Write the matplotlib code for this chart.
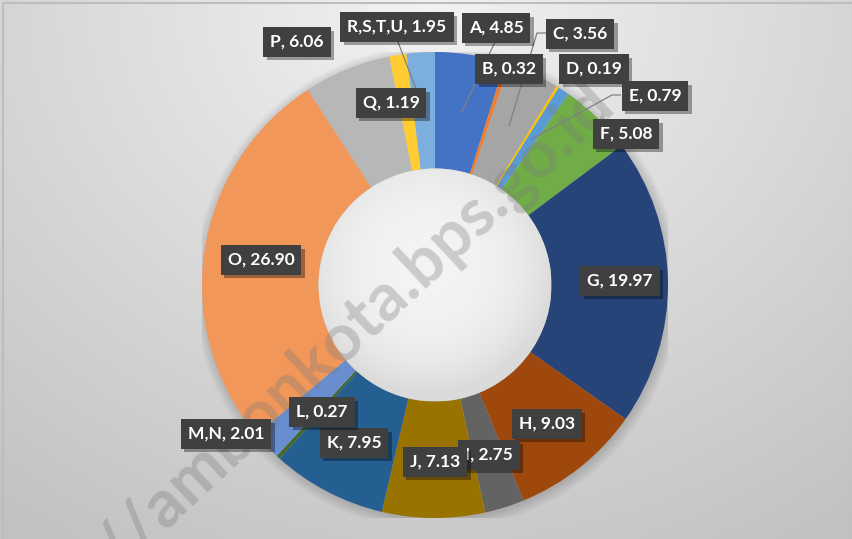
import matplotlib
matplotlib.use("Agg")
import matplotlib.pyplot as plt
import matplotlib.patheffects as pe
import numpy as np

# Data
categories = ["A", "B", "C", "D", "E", "F", "G", "H", "I", "J", "K", "L",
              "M,N", "O", "P", "Q", "R,S,T,U"]
values = [4.85, 0.32, 3.56, 0.19, 0.79, 5.08, 19.97, 9.03, 2.75, 7.13, 7.95,
          0.27, 2.01, 26.90, 6.06, 1.19, 1.95]
colors = ["#4472C4", "#ED7D31", "#A5A5A5", "#FFC000", "#5B9BD5", "#70AD47",
          "#264478", "#9E480E", "#636363", "#997300", "#255E91", "#43682B",
          "#698ED0", "#F1975A", "#B7B7B7", "#FFCD33", "#7CAFDD"]

# Label box centres (pixels, origin top-left), placed by hand like in Excel
label_pos = {
    "A": (496, 28), "B": (509, 69), "C": (580, 34), "D": (594, 69),
    "E": (655, 96), "F": (626, 134), "G": (620, 281), "H": (547, 424),
    "I": (489, 455), "J": (435, 462), "K": (354, 443), "L": (322, 412),
    "M,N": (226, 434), "O": (261, 260), "P": (297, 42), "Q": (391, 103),
    "R,S,T,U": (397, 27),
}
# leader lines: points from the label towards the slice
leaders = {
    "A": [(495, 42)],
    "C": [(546, 33), (537, 33)],
    "E": [(621, 95), (612, 95)],
    "R,S,T,U": [(398, 42)],
}
draw_order = ["A", "B", "C", "D", "E", "F", "G", "H", "I", "J", "K", "M,N",
              "L", "O", "P", "R,S,T,U", "Q"]

W, H = 853, 539
cx, cy, R = 435, 285, 233

fig = plt.figure(figsize=(W / 100, H / 100), dpi=100)

# background gradient
bg = fig.add_axes([0, 0, 1, 1], zorder=0)
yy, xx = np.mgrid[0:H, 0:W]
d = np.sqrt((xx - 430) ** 2 + ((yy - 10) * 1.15) ** 2) / 720
g = 0.95 - 0.19 * np.clip(d, 0, 1)
bg.imshow(np.dstack([g, g, g]), extent=[0, W, H, 0], aspect="auto")
bg.set_xlim(0, W)
bg.set_ylim(H, 0)
bg.axis("off")
bg.add_patch(plt.Rectangle((3, 3), W - 3, H, fill=False, edgecolor="#bdbdbd", lw=1.5))

# donut
ax = fig.add_axes([(cx - R) / W, (H - cy - R) / H, 2 * R / W, 2 * R / H], zorder=1)
ax.patch.set_visible(False)

# soft shadow behind the ring
for k in range(8):
    ax.add_patch(plt.Circle((0.006, -0.01), 1.0 + 0.006 * k, color="black",
                            alpha=0.018, lw=0, zorder=0))

wedges, _ = ax.pie(values, colors=colors, startangle=90, counterclock=False,
                   radius=1, wedgeprops=dict(width=0.5, linewidth=0))
ax.set_xlim(-1, 1)
ax.set_ylim(-1, 1)
ax.set_aspect("auto")
ax.axis("off")

# hole shading
hy, hx = np.mgrid[-0.5:0.5:300j, -0.5:0.5:300j]
hr = np.sqrt((hx + 0.03) ** 2 + (hy - 0.08) ** 2) / 0.55
hg = 0.955 - 0.1 * np.clip(hr, 0, 1) ** 3
hole_img = ax.imshow(np.dstack([hg, hg, hg]), extent=[-0.5, 0.5, -0.5, 0.5],
                     origin="lower", zorder=3)
hole = plt.Circle((0, 0), 0.5, transform=ax.transData, facecolor="none", edgecolor="none")
ax.add_patch(hole)
hole_img.set_clip_path(hole)
ax.set_xlim(-1, 1)
ax.set_ylim(-1, 1)

# overlay in pixel coordinates
ov = fig.add_axes([0, 0, 1, 1], zorder=2)
ov.set_xlim(0, W)
ov.set_ylim(H, 0)
ov.axis("off")
ov.patch.set_visible(False)

ov.text(304, 374, "http://ambonkota.bps.go.id", rotation=43, fontsize=48,
        fontweight="bold", family="Lato", color="#7a7a7a", alpha=0.33,
        ha="center", va="center", rotation_mode="anchor", zorder=2)

# slice middle angles
total = sum(values)
cum = np.cumsum([0] + values[:-1])
mid_angle = {c: np.deg2rad(90 - (s + v / 2) / total * 360)
             for c, s, v in zip(categories, cum, values)}

for cat, pts in leaders.items():
    a = mid_angle[cat]
    ex = cx + 0.75 * R * np.cos(a)
    ey = cy - 0.75 * R * np.sin(a)
    xs = [p[0] for p in pts] + [ex]
    ys = [p[1] for p in pts] + [ey]
    ov.plot(xs, ys, color="#808080", lw=0.9, zorder=3, solid_capstyle="butt")

val_map = dict(zip(categories, values))
for i, cat in enumerate(draw_order):
    x, y = label_pos[cat]
    t = ov.text(x, y, f"{cat}, {val_map[cat]:.2f}", fontsize=12.5, fontweight="bold",
                family="Lato", color="white", ha="center", va="center", zorder=5 + i,
                bbox=dict(boxstyle="square,pad=0.4", facecolor="#404040", edgecolor="none"))
    t.get_bbox_patch().set_path_effects([
        pe.SimplePatchShadow(offset=(2.5, -2.5), shadow_rgbFace="black", alpha=0.35),
        pe.Normal()])

fig.savefig("out.png", dpi=100)
